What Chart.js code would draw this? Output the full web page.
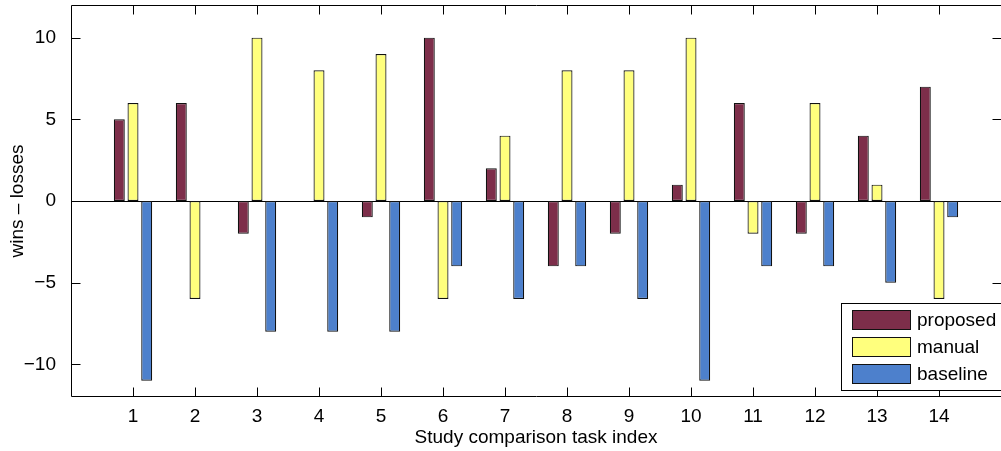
<!DOCTYPE html>
<html><head><meta charset="utf-8">
<script src="https://cdn.jsdelivr.net/npm/chart.js@4.4.0/dist/chart.umd.min.js"></script>
<style>
html,body{margin:0;padding:0;background:#fff;overflow:hidden;width:1001px;height:451px}
#wrap{position:relative;width:1003px;height:451px}
</style></head>
<body><div id="wrap"><canvas id="c"></canvas></div>
<script>
const categories = [1, 2, 3, 4, 5, 6, 7, 8, 9, 10, 11, 12, 13, 14];
const proposed = [5, 6, -2, 0, -1, 10, 2, -4, -2, 1, 6, -2, 4, 7];
const manual   = [6, -6, 10, 8, 9, -6, 4, 8, 8, 10, -2, 6, 1, -6];
const baseline = [-11, 0, -8, -8, -8, -4, -6, -4, -6, -11, -4, -4, -5, -1];
const seriesNames = ['proposed', 'manual', 'baseline'];
const yTicks = [-10, -5, 0, 5, 10];
const xTicks = categories;
const xLabel = 'Study comparison task index';
const yLabel = 'wins \u2013 losses';

const colors = ['rgb(125,46,74)', 'rgb(255,255,125)', 'rgb(77,128,204)'];
const FONT = "'Liberation Sans', Arial, Helvetica, sans-serif";

function mk(vals, i) {
  return {
    label: seriesNames[i],
    data: categories.map((c, k) => ({x: c, y: vals[k]})),
    backgroundColor: colors[i],
    borderColor: '#111',
    borderWidth: 1.2,
    borderSkipped: false,
    categoryPercentage: 0.663,
    barPercentage: 0.8
  };
}

const framePlugin = {
  id: 'frame',
  beforeDatasetsDraw(chart) {
    const {ctx, chartArea: a} = chart;
    const y0 = Math.round(chart.scales.y.getPixelForValue(0)) + 0.5;
    ctx.save();
    ctx.strokeStyle = '#000';
    ctx.lineWidth = 1;
    ctx.beginPath();
    ctx.moveTo(a.left, y0); ctx.lineTo(a.right, y0);
    ctx.stroke();
    ctx.restore();
  },
  afterDatasetsDraw(chart) {
    const {ctx, chartArea: a, scales} = chart;
    const L = Math.round(a.left) + 0.5, R = Math.round(a.right) + 0.5;
    const T = Math.round(a.top) + 0.5, B = Math.round(a.bottom) - 0.5;
    ctx.save();
    ctx.strokeStyle = '#000';
    ctx.lineWidth = 1;
    ctx.beginPath();
    ctx.rect(L, T, R - L, B - T);
    const tl = 9;
    xTicks.forEach(v => {
      const x = Math.round(scales.x.getPixelForValue(v)) + 0.5;
      ctx.moveTo(x, B); ctx.lineTo(x, B - tl);
      ctx.moveTo(x, T); ctx.lineTo(x, T + tl);
    });
    yTicks.forEach(v => {
      const y = Math.round(scales.y.getPixelForValue(v)) + 0.5;
      ctx.moveTo(L, y); ctx.lineTo(L + tl, y);
      ctx.moveTo(R, y); ctx.lineTo(R - tl, y);
    });
    ctx.stroke();

    // legend
    const bx0 = 841.5, by0 = 303.5, bx1 = R + 2, by1 = B - 6;
    ctx.fillStyle = '#fff';
    ctx.fillRect(bx0, by0, bx1 - bx0, by1 - by0);
    ctx.strokeRect(bx0, by0, bx1 - bx0, by1 - by0);
    ctx.font = '19px ' + FONT;
    ctx.textBaseline = 'middle';
    ctx.textAlign = 'left';
    chart.data.datasets.forEach((ds, i) => {
      const sy = 310.5 + i * 27;
      ctx.fillStyle = ds.backgroundColor;
      ctx.fillRect(852.5, sy, 58, 19);
      ctx.strokeStyle = '#111';
      ctx.strokeRect(852.5, sy, 58, 19);
      ctx.fillStyle = '#000';
      ctx.fillText(ds.label, 917, sy + 10);
    });
    ctx.restore();
  }
};

new Chart(document.getElementById('c'), {
  type: 'bar',
  data: { datasets: [mk(proposed, 0), mk(manual, 1), mk(baseline, 2)] },
  options: {
    responsive: true,
    maintainAspectRatio: false,
    animation: false,
    layout: { padding: { top: 5, right: 2, left: 0, bottom: 0 } },
    plugins: { legend: { display: false }, tooltip: { enabled: false } },
    scales: {
      x: {
        type: 'linear',
        min: 0, max: 15,
        offset: false,
        grid: { display: false },
        border: { display: false },
        afterBuildTicks: s => { s.ticks = xTicks.map(v => ({value: v})); },
        afterFit: s => { s.height = 54; s.paddingLeft = 0; s.paddingRight = 0; },
        ticks: { color: '#000', font: { family: FONT, size: 19 }, padding: 0, maxRotation: 0, autoSkip: false },
        title: { display: true, text: xLabel, color: '#000', font: { family: FONT, size: 19 }, padding: { top: 0, bottom: 2 } }
      },
      y: {
        min: -12, max: 12,
        grid: { display: false },
        border: { display: false },
        afterBuildTicks: s => { s.ticks = yTicks.map(v => ({value: v})); },
        afterFit: s => { s.width = 71; s.paddingTop = 0; s.paddingBottom = 0; },
        ticks: { color: '#000', font: { family: FONT, size: 19 }, padding: 7,
          callback: v => (v < 0 ? '\u2212' + Math.abs(v) : String(v)) },
        title: { display: true, text: yLabel, color: '#000', font: { family: FONT, size: 19 }, padding: { top: 6, bottom: 0 } }
      }
    }
  },
  plugins: [framePlugin]
});
</script>
</body></html>
